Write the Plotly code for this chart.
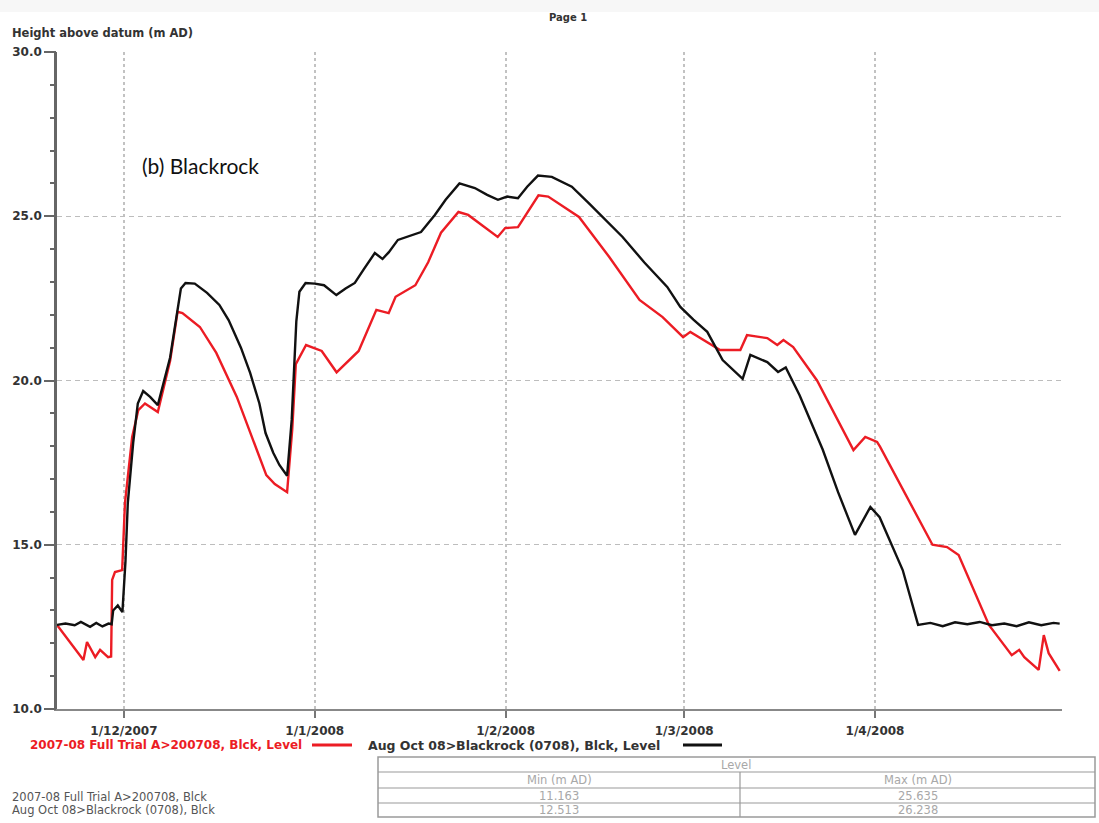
import plotly.graph_objects as go

# ---- data -----------------------------------------------------------------
trial_dates = [
    "2007-11-20 03:00", "2007-11-22 00:00", "2007-11-24 10:00", "2007-11-25 00:00",
    "2007-11-26 08:00", "2007-11-27 03:00", "2007-11-28 10:00", "2007-11-28 22:00",
    "2007-11-29 02:00", "2007-11-29 13:00", "2007-11-30 17:00", "2007-12-01 04:00",
    "2007-12-02 08:00", "2007-12-03 08:00", "2007-12-04 10:00", "2007-12-06 12:00",
    "2007-12-08 12:00", "2007-12-09 17:00", "2007-12-10 12:00", "2007-12-13 08:00",
    "2007-12-16 00:00", "2007-12-19 08:00", "2007-12-22 12:00", "2007-12-24 03:00",
    "2007-12-25 12:00", "2007-12-27 12:00", "2007-12-28 08:00", "2007-12-28 22:00",
    "2007-12-30 14:00", "2008-01-02 03:00", "2008-01-04 13:00", "2008-01-06 05:00",
    "2008-01-08 03:00", "2008-01-11 00:00", "2008-01-13 00:00", "2008-01-14 03:00",
    "2008-01-15 12:00", "2008-01-17 08:00", "2008-01-19 10:00", "2008-01-21 12:00",
    "2008-01-24 08:00", "2008-01-25 22:00", "2008-01-30 17:00", "2008-01-31 22:00",
    "2008-02-03 00:00", "2008-02-06 08:00", "2008-02-07 22:00", "2008-02-11 17:00",
    "2008-02-12 22:00", "2008-02-17 20:00", "2008-02-22 18:00", "2008-02-26 12:00",
    "2008-02-29 20:00", "2008-03-02 00:00", "2008-03-04 03:00", "2008-03-06 20:00",
    "2008-03-10 03:00", "2008-03-11 05:00", "2008-03-14 12:00", "2008-03-16 03:00",
    "2008-03-17 03:00", "2008-03-18 17:00", "2008-03-22 14:00", "2008-03-28 12:00",
    "2008-03-30 10:00", "2008-04-01 08:00", "2008-04-01 20:00", "2008-04-10 08:00",
    "2008-04-12 17:00", "2008-04-14 14:00", "2008-04-19 12:00", "2008-04-23 05:00",
    "2008-04-24 10:00", "2008-04-25 06:00", "2008-04-27 14:00", "2008-04-28 10:00",
    "2008-04-29 05:00", "2008-05-01 00:00",
]
trial_level = [
    12.56, 12.10, 11.49, 12.04,
    11.58, 11.80, 11.58, 11.60,
    13.93, 14.17, 14.23, 16.27,
    18.28, 19.10, 19.30, 19.04,
    20.60, 22.09, 22.05, 21.63,
    20.84, 19.50, 17.95, 17.12,
    16.85, 16.60, 18.50, 20.50,
    21.08, 20.90, 20.25, 20.55,
    20.90, 22.15, 22.05, 22.55,
    22.70, 22.90, 23.60, 24.50,
    25.13, 25.04, 24.37, 24.64,
    24.67, 25.635, 25.60, 25.13,
    24.98, 23.76, 22.45, 21.93,
    21.32, 21.48, 21.23, 20.93,
    20.93, 21.38, 21.29, 21.08,
    21.23, 21.02, 20.00, 17.88,
    18.28, 18.13, 17.98, 15.00,
    14.93, 14.69, 12.56, 11.64,
    11.80, 11.58, 11.19, 12.25,
    11.70, 11.163,
]

blackrock_dates = [
    "2007-11-20 03:00", "2007-11-21 12:00", "2007-11-23 00:00", "2007-11-24 00:00",
    "2007-11-25 12:00", "2007-11-26 12:00", "2007-11-27 12:00", "2007-11-28 12:00",
    "2007-11-29 00:00", "2007-11-29 06:00", "2007-11-30 00:00", "2007-11-30 18:00",
    "2007-12-01 06:00", "2007-12-01 15:00", "2007-12-02 12:00", "2007-12-03 06:00",
    "2007-12-04 03:00", "2007-12-05 06:00", "2007-12-06 12:00", "2007-12-08 12:00",
    "2007-12-10 06:00", "2007-12-11 00:00", "2007-12-12 12:00", "2007-12-14 12:00",
    "2007-12-16 12:00", "2007-12-18 00:00", "2007-12-20 00:00", "2007-12-21 12:00",
    "2007-12-23 00:00", "2007-12-24 00:00", "2007-12-25 06:00", "2007-12-26 06:00",
    "2007-12-27 12:00", "2007-12-28 06:00", "2007-12-29 00:00", "2007-12-29 12:00",
    "2007-12-30 12:00", "2008-01-01 00:00", "2008-01-02 12:00", "2008-01-04 12:00",
    "2008-01-06 00:00", "2008-01-07 12:00", "2008-01-09 00:00", "2008-01-10 18:00",
    "2008-01-12 00:00", "2008-01-13 00:00", "2008-01-14 12:00", "2008-01-16 12:00",
    "2008-01-18 06:00", "2008-01-20 12:00", "2008-01-22 06:00", "2008-01-24 12:00",
    "2008-01-27 00:00", "2008-01-29 00:00", "2008-01-30 18:00", "2008-02-01 06:00",
    "2008-02-03 00:00", "2008-02-04 12:00", "2008-02-06 06:00", "2008-02-08 12:00",
    "2008-02-11 18:00", "2008-02-14 12:00", "2008-02-17 06:00", "2008-02-20 00:00",
    "2008-02-23 12:00", "2008-02-27 06:00", "2008-02-29 09:00", "2008-03-02 12:00",
    "2008-03-04 18:00", "2008-03-07 06:00", "2008-03-10 12:00", "2008-03-11 18:00",
    "2008-03-14 12:00", "2008-03-16 06:00", "2008-03-17 12:00", "2008-03-19 18:00",
    "2008-03-23 12:00", "2008-03-26 00:00", "2008-03-28 18:00", "2008-03-31 06:00",
    "2008-04-01 18:00", "2008-04-03 12:00", "2008-04-05 12:00", "2008-04-08 00:00",
    "2008-04-10 00:00", "2008-04-12 00:00", "2008-04-14 00:00", "2008-04-16 00:00",
    "2008-04-18 00:00", "2008-04-20 00:00", "2008-04-22 00:00", "2008-04-24 00:00",
    "2008-04-26 00:00", "2008-04-28 00:00", "2008-04-30 00:00", "2008-05-01 00:00",
]
blackrock_level = [
    12.56, 12.60, 12.55, 12.65,
    12.50, 12.62, 12.513, 12.60,
    12.58, 13.00, 13.15, 12.95,
    14.50, 16.27, 18.10, 19.30,
    19.68, 19.50, 19.25, 20.70,
    22.80, 22.97, 22.95, 22.67,
    22.30, 21.84, 21.00, 20.23,
    19.30, 18.40, 17.80, 17.43,
    17.10, 18.80, 21.80, 22.70,
    22.97, 22.95, 22.90, 22.60,
    22.80, 22.97, 23.40, 23.88,
    23.70, 23.90, 24.28, 24.40,
    24.52, 25.04, 25.50, 26.00,
    25.86, 25.65, 25.50, 25.60,
    25.55, 25.90, 26.238, 26.20,
    25.90, 25.40, 24.90, 24.37,
    23.60, 22.85, 22.24, 21.85,
    21.48, 20.62, 20.05, 20.78,
    20.56, 20.26, 20.40, 19.55,
    17.90, 16.60, 15.30, 16.15,
    15.84, 15.10, 14.23, 12.56,
    12.62, 12.52, 12.64, 12.58,
    12.65, 12.55, 12.60, 12.52,
    12.64, 12.55, 12.62, 12.60,
]

month_ticks = ["2007-12-01", "2008-01-01", "2008-02-01", "2008-03-01", "2008-04-01"]
month_labels = ["1/12/2007", "1/1/2008", "1/2/2008", "1/3/2008", "1/4/2008"]

series_names = ["2007-08 Full Trial A>200708, Blck, Level",
                "Aug Oct 08>Blackrock (0708), Blck, Level"]
summary_names = ["2007-08 Full Trial A>200708, Blck",
                 "Aug Oct 08>Blackrock (0708), Blck"]
summary_min = ["11.163", "12.513"]
summary_max = ["25.635", "26.238"]

RED = "#ec1c24"
BLACK = "#111111"
W, H = 1099, 823
FONT = "DejaVu Sans"
Y_RANGE = [10, 30]


def fx(px):
    return px / W


def fy(py):
    return 1 - py / H


fig = go.Figure()
fig.add_trace(go.Scatter(x=trial_dates, y=trial_level, mode="lines",
                         line=dict(color=RED, width=2.4), name=series_names[0]))
fig.add_trace(go.Scatter(x=blackrock_dates, y=blackrock_level, mode="lines",
                         line=dict(color=BLACK, width=2.4), name=series_names[1]))
# empty trace that carries the overlaid 1-unit tick axis
fig.add_trace(go.Scatter(x=[None], y=[None], yaxis="y2", showlegend=False,
                         hoverinfo="skip"))

fig.update_layout(
    width=W, height=H, autosize=False,
    margin=dict(l=0, r=0, t=0, b=0),
    paper_bgcolor="white", plot_bgcolor="white",
    showlegend=False,
    font=dict(family=FONT, size=11, color="#333"),
    xaxis=dict(
        domain=[fx(57), fx(1062)],
        type="date",
        range=["2007-11-20 03:00", "2008-05-01 09:00"],
        tickvals=month_ticks, ticktext=month_labels,
        ticks="outside", ticklen=7, tickwidth=2, tickcolor="#777",
        ticklabelstandoff=3,
        tickfont=dict(family=FONT, size=12, color="#333", weight="bold"),
        showline=True, linecolor="#888", linewidth=2,
        showgrid=True, gridcolor="#c2c2c2", gridwidth=1.5, griddash="3px,3px",
        zeroline=False, automargin=False,
    ),
    yaxis=dict(
        domain=[fy(709), fy(52)],
        range=Y_RANGE,
        tickmode="linear", tick0=10, dtick=5, tickformat=".1f",
        ticks="outside", ticklen=10, tickwidth=1.5, tickcolor="#666",
        tickfont=dict(family=FONT, size=12, color="#333", weight="bold"),
        showline=True, linecolor="#666", linewidth=2.5,
        showgrid=True, gridcolor="#bdbdbd", gridwidth=1, griddash="5px,4px",
        zeroline=False, automargin=False,
    ),
    yaxis2=dict(
        overlaying="y", side="left", anchor="x",
        range=Y_RANGE, tickmode="linear", tick0=10, dtick=1,
        ticks="outside", ticklen=6, tickwidth=1.5, tickcolor="#666",
        showticklabels=False, showgrid=False, showline=False, zeroline=False,
        automargin=False,
    ),
)

ann = []
shapes = []


def text(x, y, s, size=11, color="#333", xanchor="left", weight="bold", family=FONT):
    ann.append(dict(x=fx(x), y=fy(y), xref="paper", yref="paper", text=s,
                    showarrow=False, xanchor=xanchor, yanchor="middle",
                    font=dict(family=family, size=size, color=color, weight=weight)))


# page header and axis title
shapes.append(dict(type="rect", xref="paper", yref="paper", x0=0, x1=1,
                   y0=fy(12), y1=1, fillcolor="#f7f7f7", line=dict(width=0),
                   layer="below"))
text(568, 17, "Page 1", size=10, xanchor="center")
text(10, 33, "Height above datum (m AD)", size=11.5)

# panel label
text(140, 166, "(b) Blackrock", size=21, color="#111", weight="normal", family="Lato")

# legend row: label then line sample
text(304, 745, series_names[0], size=12, color=RED, xanchor="right")
shapes.append(dict(type="line", xref="paper", yref="paper", x0=fx(312), x1=fx(352),
                   y0=fy(745), y1=fy(745), line=dict(color=RED, width=3)))
text(366, 745, series_names[1], size=12.5, color="#333")
shapes.append(dict(type="line", xref="paper", yref="paper", x0=fx(683), x1=fx(722),
                   y0=fy(745), y1=fy(745), line=dict(color=BLACK, width=3)))

# summary table
for i, name in enumerate(summary_names):
    text(10, 797 + 13 * i, name, size=11.5, color="#555", weight="normal")

tx0, tx1, tmid = 378, 1095, 740
rows = [757, 772, 788, 803, 817]
grey = "#9a9a9a"
shapes.append(dict(type="rect", xref="paper", yref="paper", x0=fx(tx0), x1=fx(tx1),
                   y0=fy(rows[-1]), y1=fy(rows[0]), line=dict(color=grey, width=1.5)))
for r in rows[1:-1]:
    shapes.append(dict(type="line", xref="paper", yref="paper", x0=fx(tx0), x1=fx(tx1),
                       y0=fy(r), y1=fy(r), line=dict(color=grey, width=1.2)))
shapes.append(dict(type="line", xref="paper", yref="paper", x0=fx(tmid), x1=fx(tmid),
                   y0=fy(rows[-1]), y1=fy(rows[1]), line=dict(color=grey, width=1.2)))

cell_color = "#a8a8a8"
cell_size = 11.5
text((tx0 + tx1) / 2, (rows[0] + rows[1]) / 2, "Level", size=cell_size, color=cell_color,
     xanchor="center", weight="normal")
text((tx0 + tmid) / 2, (rows[1] + rows[2]) / 2, "Min (m AD)", size=cell_size,
     color=cell_color, xanchor="center", weight="normal")
text((tmid + tx1) / 2, (rows[1] + rows[2]) / 2, "Max (m AD)", size=cell_size,
     color=cell_color, xanchor="center", weight="normal")
for i in range(2):
    yc = (rows[2 + i] + rows[3 + i]) / 2
    text((tx0 + tmid) / 2, yc, summary_min[i], size=cell_size, color=cell_color,
         xanchor="center", weight="normal")
    text((tmid + tx1) / 2, yc, summary_max[i], size=cell_size, color=cell_color,
         xanchor="center", weight="normal")

fig.update_layout(annotations=ann, shapes=shapes)
fig.write_html("out.html",
               post_script="document.body.style.margin='0';"
                           "document.body.style.overflow='hidden';")
